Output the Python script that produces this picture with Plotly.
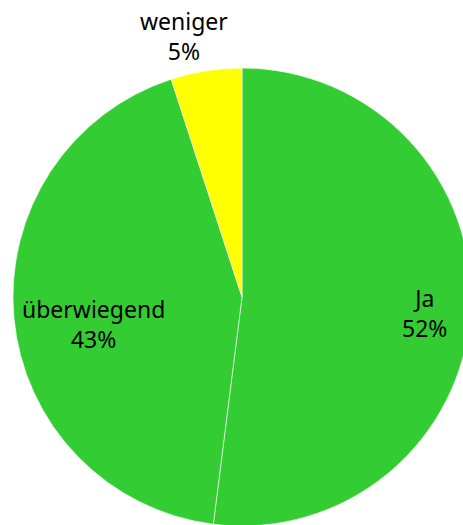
import math
import plotly.graph_objects as go

labels = ["Ja", "überwiegend", "weniger"]
values = [52, 43, 5]
colors = ["#33CC33", "#33CC33", "#FFFF00"]

# label placement style: radial fraction of radius, pixel nudges
label_radius = [0.80, 0.65, 1.155]
label_xshift = [0, 0, -17]
label_yshift = [-4, -13, 0]

fig = go.Figure(go.Pie(
    labels=labels,
    values=values,
    sort=False,
    direction="clockwise",
    rotation=0,
    marker=dict(colors=colors, line=dict(color="rgba(255,255,255,0.6)", width=1)),
    textinfo="none",
    showlegend=False,
    hoverinfo="skip",
    domain=dict(x=[0, 1], y=[0, 1]),
))

total = sum(values)
cum = 0
for lab, v, rf, xs, ys in zip(labels, values, label_radius, label_xshift, label_yshift):
    mid = (cum + v / 2) / total * 2 * math.pi
    cum += v
    pct = round(v / total * 100)
    fig.add_annotation(
        x=0.5 + 0.5 * rf * math.sin(mid),
        y=0.5 + 0.5 * rf * math.cos(mid),
        xref="paper", yref="paper",
        text=f"{lab}<br>{pct}%",
        showarrow=False,
        xanchor="center", yanchor="middle",
        xshift=xs, yshift=ys,
        font=dict(family="Noto Sans", size=23, color="black"),
    )

fig.update_layout(
    width=484, height=594,
    margin=dict(l=13, r=13, t=68, b=68),
    paper_bgcolor="white",
    plot_bgcolor="white",
)

fig.write_html(
    "out.html",
    config={"displayModeBar": False},
    post_script="document.body.style.margin='0';document.body.style.overflow='hidden';",
)
